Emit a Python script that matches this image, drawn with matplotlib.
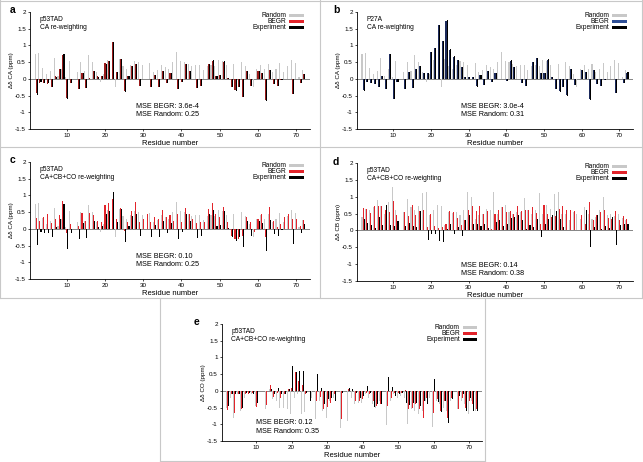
import numpy as np
import matplotlib.pyplot as plt
from matplotlib.patches import Rectangle
from matplotlib.lines import Line2D

plt.rcParams['font.family'] = ['Liberation Sans', 'DejaVu Sans']

residues = np.arange(2, 73)

# --- CA chemical shifts (p53TAD), shared by panels a and c -------------------
ca_random = [0.73, 0.77, 0.33, 0.15, 0.25, 0.63, 0.10, 0.30, 0.07, 0.52,
             0.00, 0.20, 0.50, 0.25, 0.72, 0.50, 0.20, -0.10, 0.15, 0.55,
             0.00, -0.25, 0.60, 0.38, 0.28, 0.40, 0.53, 0.50, 0.42, 0.00,
             0.48, 0.22, 0.27, 0.40, 0.35, 0.30, 0.50, 0.80, 0.52, 0.50,
             0.45, 0.37, 0.40, 0.40, 0.27, 0.37, 0.40, 0.37, 0.55, 0.52,
             0.40, 0.00, 0.45, 0.00, 0.50, 0.37, 0.15, -0.25, 0.28, 0.42,
             0.30, 0.43, 0.20, 0.30, 0.47, 0.20, 0.37, 0.57, 0.47, 0.07,
             0.27]
ca_exp = [-0.47, -0.10, -0.12, -0.13, -0.25, 0.07, 0.30, 0.73, -0.60, -0.12,
          0.00, -0.30, 0.19, -0.27, 0.01, 0.25, 0.07, 0.10, 0.45, 0.53,
          1.10, 0.21, 0.60, -0.38, 0.08, 0.38, 0.44, -0.22, 0.00, 0.00,
          -0.25, 0.13, -0.25, 0.25, -0.12, 0.17, 0.00, -0.30, -0.10, 0.45,
          0.25, 0.00, -0.27, -0.22, 0.00, 0.45, 0.55, 0.10, 0.12, 0.52,
          0.03, -0.25, -0.35, -0.25, -0.55, 0.25, -0.20, 0.00, 0.25, 0.18,
          -0.65, 0.27, -0.15, -0.22, -0.03, 0.00, 0.00, -0.45, 0.00, -0.13,
          0.15]
ca_begr_a = [-0.42, -0.11, -0.12, -0.14, -0.24, 0.08, 0.30, 0.72, -0.58, -0.12,
             0.00, -0.29, 0.19, -0.26, 0.02, 0.25, 0.08, 0.10, 0.46, 0.53,
             1.09, 0.22, 0.60, -0.37, 0.09, 0.37, 0.44, -0.21, 0.00, 0.00,
             -0.24, 0.13, -0.24, 0.25, -0.12, 0.17, 0.00, -0.29, -0.10, 0.45,
             0.25, 0.00, -0.27, -0.22, 0.00, 0.44, 0.54, 0.10, 0.12, 0.51,
             0.03, -0.24, -0.34, -0.25, -0.54, 0.25, -0.20, 0.00, 0.24, 0.18,
             -0.63, 0.26, -0.15, -0.22, -0.03, 0.00, 0.00, -0.44, 0.00, -0.13,
             0.15]
ca_begr_c = [0.33, 0.23, 0.35, 0.45, 0.18, 0.30, 0.40, 0.83, -0.12, 0.15,
             0.00, 0.10, 0.47, 0.25, 0.47, 0.40, 0.25, 0.20, 0.72, 0.78,
             0.90, 0.30, 0.63, -0.05, 0.20, 0.53, 0.80, 0.20, 0.30, 0.45,
             0.20, 0.35, 0.30, 0.55, 0.35, 0.40, 0.25, 0.45, 0.20, 0.62,
             0.45, 0.30, 0.18, 0.20, 0.20, 0.60, 0.78, 0.45, 0.35, 0.65,
             0.20, -0.20, -0.30, -0.30, -0.20, 0.35, 0.20, -0.10, 0.30, 0.45,
             -0.25, 0.65, 0.25, 0.05, 0.15, 0.35, 0.45, 0.30, 0.30, 0.10,
             0.27]

# --- CA chemical shifts, P27A mutant (panel b) -------------------------------
p27a_exp = [-0.35, -0.08, -0.13, -0.15, -0.25, 0.08, -0.30, 0.75, -0.60, -0.10,
            0.00, -0.30, 0.20, -0.28, 0.28, 0.38, 0.17, 0.18, 0.80, 0.93,
            1.62, 1.13, 1.75, 0.88, 0.67, 0.55, 0.35, 0.05, 0.07, 0.05,
            -0.23, 0.13, -0.18, 0.25, -0.10, 0.17, 0.00, 0.00, -0.05, 0.55,
            0.35, 0.00, -0.12, -0.22, 0.00, 0.50, 0.62, 0.17, 0.18, 0.58,
            0.07, -0.30, -0.38, -0.25, -0.50, 0.28, -0.18, 0.00, 0.27, 0.20,
            -0.62, 0.27, -0.15, -0.22, -0.03, 0.00, 0.00, -0.42, 0.00, -0.12,
            0.20]
p27a_begr = [-0.33, -0.08, -0.13, -0.15, -0.24, 0.08, -0.29, 0.74, -0.59, -0.10,
             0.00, -0.29, 0.20, -0.27, 0.28, 0.37, 0.17, 0.18, 0.79, 0.92,
             1.60, 1.12, 1.73, 0.87, 0.66, 0.55, 0.35, 0.05, 0.07, 0.05,
             -0.22, 0.13, -0.18, 0.25, -0.10, 0.17, 0.00, 0.00, -0.05, 0.54,
             0.35, 0.00, -0.12, -0.22, 0.00, 0.49, 0.61, 0.17, 0.18, 0.57,
             0.07, -0.29, -0.37, -0.25, -0.49, 0.28, -0.18, 0.00, 0.26, 0.20,
             -0.61, 0.27, -0.15, -0.22, -0.03, 0.00, 0.00, -0.41, 0.00, -0.12,
             0.19]

# --- CB chemical shifts (panel d) --------------------------------------------
cb_random = [0.40, 0.65, 0.60, 0.70, 0.90, 0.72, 0.50, 0.85, 1.30, 0.62,
             0.00, 0.55, 0.92, 0.70, 0.62, 0.72, 1.10, 1.15, 0.45, 0.62,
             0.75, 0.72, 0.15, 0.55, 0.52, 0.55, 0.45, 0.62, 1.15, 0.98,
             0.35, 0.45, 0.50, 0.65, 0.62, 1.15, 0.50, 0.70, 0.75, 0.55,
             0.50, 0.55, 0.55, 0.95, 0.60, 0.50, 0.60, 1.12, 0.50, 0.75,
             0.65, 1.07, 1.13, 0.50, 0.50, 0.30, 0.55, 0.50, 0.35, 0.70,
             0.50, 0.35, 0.40, 0.60, 1.00, 0.45, 0.50, 0.42, 0.50, 0.38,
             0.30]
cb_begr = [0.68, 0.65, 0.52, 0.72, 0.72, 0.72, 0.60, 0.55, 0.88, 0.45,
           0.00, 0.55, 0.43, 0.75, 0.45, 0.58, 0.62, 0.10, 0.50, 0.12,
           0.08, 0.10, 0.20, 0.57, 0.55, 0.38, 0.15, 0.30, 0.60, 0.72,
           0.58, 0.72, 0.50, 0.58, 0.05, 0.50, 0.62, 0.70, 0.55, 0.58,
           0.50, 0.72, 0.58, 0.60, 0.60, 0.70, 0.52, 0.20, 0.75, 0.50,
           0.40, 0.42, 0.65, 0.72, 0.60, 0.60, 0.58, 0.00, 0.45, 0.20,
           0.83, 0.30, 0.45, 0.55, 0.60, 0.38, 0.35, 0.58, 0.30, 0.42,
           0.35]
cb_exp = [0.35, 0.22, 0.17, 0.08, 0.40, 0.15, 0.75, 0.15, 0.12, 0.27,
          0.00, 0.12, 0.22, 0.13, 0.10, 0.57, 0.00, -0.27, -0.10, -0.10,
          -0.30, -0.33, 0.05, 0.20, -0.12, 0.10, -0.18, 0.30, 0.45, 0.20,
          0.20, 0.12, 0.18, 0.08, 0.00, 0.25, 0.30, 0.12, 0.20, 0.38,
          0.40, 0.45, 0.30, 0.05, 0.15, 0.10, 0.35, -0.20, 0.20, 0.35,
          0.45, 0.58, 0.35, 0.10, 0.00, 0.00, 0.00, 0.00, 0.00, 0.60,
          -0.50, 0.10, 0.45, 0.05, 0.12, 0.08, 0.40, -0.42, 0.15, 0.20,
          0.20]

# --- CO chemical shifts (panel e) --------------------------------------------
co_random = [-0.50, -0.20, -0.82, -0.10, -0.60, -0.20, -0.90, -0.10, -0.45, 0.00,
             0.00, -0.55, 0.05, -0.25, -0.30, -0.50, -0.50, -0.55, -0.68, -0.20,
             -0.10, -0.68, -0.62, 0.00, -0.20, -0.85, -0.30, -0.60, -0.80, -0.30,
             -0.20, 0.00, -1.10, 0.00, -0.90, -0.20, -0.40, -0.35, -0.35, -0.10,
             -0.20, -0.40, -0.50, -0.30, 0.00, -1.02, -0.30, -0.10, -0.20, -0.15,
             -0.20, -0.98, -0.55, -0.60, -0.70, -0.60, -0.30, -0.20, -1.08, -0.30,
             -0.40, -0.50, -0.60, -0.30, 0.00, -0.55, -0.30, -0.40, -0.70, -0.30,
             -0.60]
co_begr = [-0.57, -0.10, -0.65, -0.10, -0.55, -0.08, -0.10, -0.05, -0.48, 0.00,
           0.00, -0.42, 0.17, -0.17, -0.05, -0.22, -0.08, 0.05, 0.10, 0.55,
           0.30, 0.17, -0.10, 0.00, 0.00, -0.30, -0.17, -0.55, -0.47, -0.35,
           -0.10, 0.00, -0.85, 0.00, 0.05, 0.12, -0.30, -0.30, -0.25, -0.05,
           -0.08, -0.30, -0.45, -0.40, 0.00, -0.45, -0.20, -0.05, -0.05, -0.05,
           0.03, -0.55, -0.50, -0.40, -0.55, -0.80, -0.20, 0.00, -0.65, -0.25,
           -0.60, -0.30, -0.80, -0.20, 0.00, -0.55, -0.20, -0.50, -0.30, -0.40,
           -0.55]
co_exp = [-0.45, -0.10, -0.10, -0.10, -0.50, -0.05, -0.05, -0.10, -0.35, 0.00,
          0.00, 0.00, 0.05, -0.10, 0.10, -0.10, -0.10, 0.05, 0.75, 0.57,
          0.58, 0.58, -0.05, -0.30, 0.00, 0.50, 0.10, -0.40, -0.25, -0.22,
          -0.30, 0.00, -0.05, 0.00, 0.10, 0.05, -0.05, -0.20, -0.15, 0.15,
          -0.05, -0.48, -0.38, -0.38, 0.00, 0.42, 0.12, -0.15, -0.10, -0.07,
          -0.35, -0.42, -0.35, -0.35, -0.45, -0.30, -0.40, 0.00, 0.35, -0.32,
          -0.62, -0.30, -0.95, -0.25, 0.00, -0.15, -0.10, -0.60, -0.20, -0.60,
          -0.60]

GRAY = "#c8c8c8"
RED = "#e2242b"
NAVY = "#1c2a5c"
NAVY_LEG = "#2f4f96"

W, H = 643, 462
fig = plt.figure(figsize=(W / 100, H / 100), dpi=100)


def px_axes(left, top, right, bottom):
    return fig.add_axes([left / W, 1 - bottom / H, (right - left) / W, (bottom - top) / H])


def panel(ax, rnd, begr, exp, begr_col, leg_col, ylab, title2, mse_begr, mse_rnd,
          mse_xy=(28, -0.86), title1="p53TAD"):
    bw = 0.28
    ax.bar(residues - bw, rnd, bw, color=GRAY, lw=0)
    ax.bar(residues, begr, bw, color=begr_col, lw=0)
    ax.bar(residues + bw, exp, bw, color="black", lw=0)
    ax.axhline(0, color="#555555", lw=0.5, zorder=0)
    ax.set_xlim(0.4, 73.6)
    ax.set_ylim(-1.5, 2)
    ax.set_yticks([-1.5, -1, -0.5, 0, 0.5, 1, 1.5, 2])
    ax.set_yticklabels(["-1.5", "-1", "-0.5", "0", "0.5", "1", "1.5", "2"])
    ax.set_xticks([10, 20, 30, 40, 50, 60, 70])
    for s in ("top", "right"):
        ax.spines[s].set_visible(False)
    for s in ("left", "bottom"):
        ax.spines[s].set_linewidth(0.6)
    ax.tick_params(labelsize=4.5, length=1.5, width=0.5, pad=1.5)
    ax.set_xlabel("Residue number", fontsize=5.5, labelpad=1.5)
    ax.set_ylabel(ylab, fontsize=4.5, labelpad=1)
    ax.text(3, 1.72, title1, fontsize=4.8)
    ax.text(3, 1.5, title2, fontsize=4.8)
    ax.text(mse_xy[0], mse_xy[1], f"MSE BEGR: {mse_begr}", fontsize=5.2)
    ax.text(mse_xy[0], mse_xy[1] - 0.25, f"MSE Random: {mse_rnd}", fontsize=5.2)
    # legend: text right-aligned, then a flat colour bar
    for i, (lab, col) in enumerate([("Random", GRAY), ("BEGR", leg_col), ("Experiment", "black")]):
        y = 1.9 - i * 0.175
        ax.text(0.915, y, lab, transform=ax.get_yaxis_transform(), ha="right", va="center",
                fontsize=4.8)
        ax.add_patch(Rectangle((0.925, y - 0.045), 0.055, 0.09, transform=ax.get_yaxis_transform(),
                               color=col, lw=0, clip_on=False))


ax_a = px_axes(30, 12, 310, 129)
panel(ax_a, ca_random, ca_begr_a, ca_exp, "#9a1a1a", RED, "Δδ CA (ppm)",
      "CA re-weighting", "3.6e-4", "0.25")

ax_b = px_axes(357, 12, 633, 129)
panel(ax_b, ca_random, p27a_begr, p27a_exp, NAVY, NAVY_LEG, "Δδ CA (ppm)",
      "CA re-weighting", "3.0e-4", "0.31", title1="P27A")

ax_c = px_axes(30, 162, 310, 279)
panel(ax_c, ca_random, ca_begr_c, ca_exp, RED, RED, "Δδ CA (ppm)",
      "CA+CB+CO re-weighting", "0.10", "0.25")

ax_d = px_axes(357, 163, 633, 281)
panel(ax_d, cb_random, cb_begr, cb_exp, RED, RED, "Δδ CB (ppm)",
      "CA+CB+CO re-weighting", "0.14", "0.38", mse_xy=(28, -1.08))

ax_e = px_axes(222, 324, 482, 441)
panel(ax_e, co_random, co_begr, co_exp, RED, RED, "Δδ CO (ppm)",
      "CA+CB+CO re-weighting", "0.12", "0.35", mse_xy=(10, -1.0))

# panel letters
for lab, x, y in [("a", 10, 10), ("b", 333, 10), ("c", 10, 160), ("d", 333, 162), ("e", 194, 322)]:
    fig.text(x / W, 1 - y / H, lab, fontsize=7.5, fontweight="bold", va="center")

# panel frames
frame = dict(color="#c8c8c8", lw=0.8)
for (x0, y0, x1, y1) in [(0, 147, 643, 147), (0, 298, 643, 298), (320, 0, 320, 298),
                         (0, 0, 0, 298), (642, 0, 642, 298), (0, 1, 643, 1),
                         (160, 298, 160, 461), (485, 298, 485, 461), (160, 461, 485, 461)]:
    fig.add_artist(Line2D([x0 / W, x1 / W], [1 - y0 / H, 1 - y1 / H], **frame))

fig.savefig("out.png", dpi=100)
